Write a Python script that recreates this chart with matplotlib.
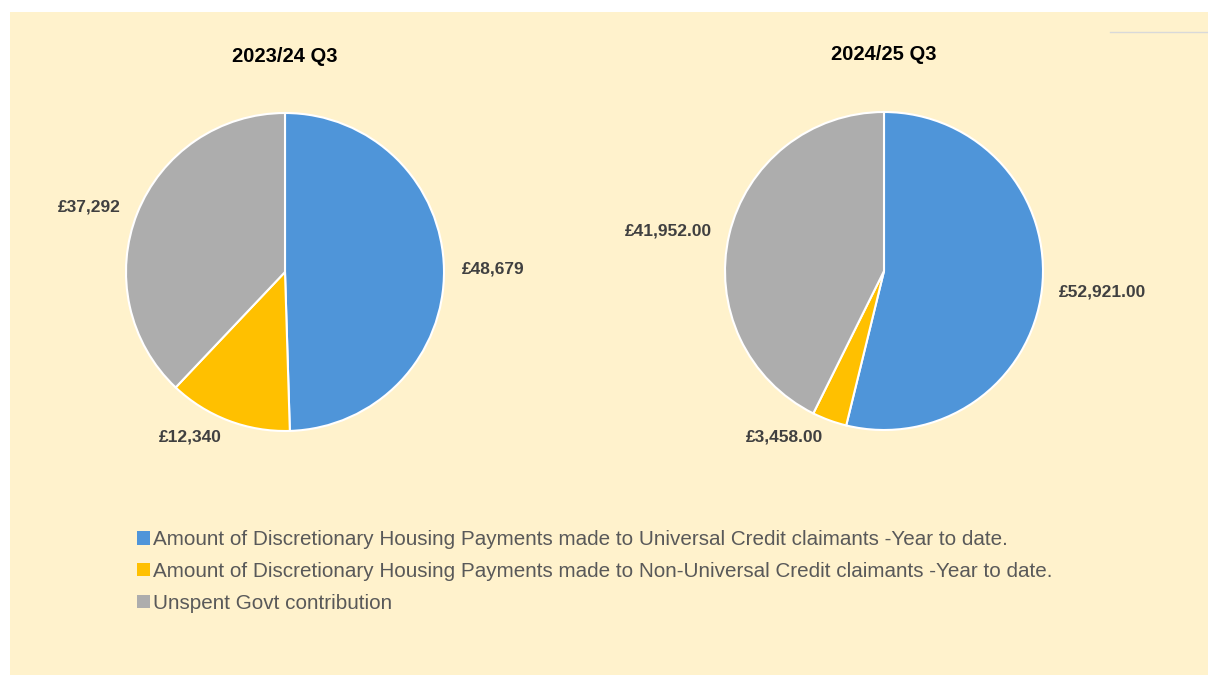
import matplotlib
matplotlib.use('Agg')
import matplotlib.pyplot as plt
from matplotlib.patches import Rectangle, Patch
from matplotlib.lines import Line2D

plt.rcParams['font.family'] = ['Liberation Sans', 'DejaVu Sans']

titles = ['2023/24 Q3', '2024/25 Q3']
values_2324 = [48679, 12340, 37292]
values_2425 = [52921.00, 3458.00, 41952.00]
labels_2324 = ['£48,679', '£12,340', '£37,292']
labels_2425 = ['£52,921.00', '£3,458.00', '£41,952.00']
categories = [
    'Amount of Discretionary Housing Payments made to Universal Credit claimants -Year to date.',
    'Amount of Discretionary Housing Payments made to Non-Universal Credit claimants -Year to date.',
    'Unspent Govt contribution',
]
colours = ['#4F95D9', '#FFC000', '#ADADAD']

W, H = 1208, 675
fig = plt.figure(figsize=(W / 100, H / 100), dpi=100)
fig.patch.set_facecolor('white')

# cream panel behind everything
fig.patches.append(Rectangle((10 / W, 0), 1 - 10 / W, 1 - 12 / H, transform=fig.transFigure,
                             facecolor='#FFF2CC', edgecolor='none', zorder=-5))
fig.lines.append(Line2D([1110 / W, 1], [1 - 32 / H, 1 - 32 / H], transform=fig.transFigure,
                        color='#D9D9D9', lw=1, zorder=-4))


def draw_pie(cx, cy, vals, labs, title, title_y):
    r = 159
    ax = fig.add_axes([(cx - r) / W, (H - cy - r) / H, 2 * r / W, 2 * r / H])
    wedges, texts = ax.pie(vals, labels=labs, colors=colours, startangle=90, counterclock=False,
                           labeldistance=1.11,
                           wedgeprops=dict(edgecolor='white', linewidth=1.5),
                           textprops=dict(fontsize=12.5, fontweight='bold', color='#404040'))
    for w in wedges:
        w.set_clip_on(False)
    ax.set_xlim(-1, 1)
    ax.set_ylim(-1, 1)
    ax.axis('off')
    fig.text(cx / W, 1 - title_y / H, title, ha='center', va='center',
             fontsize=14.5, fontweight='bold', color='black')
    return wedges


draw_pie(285, 272, values_2324, labels_2324, titles[0], 57)
draw_pie(884, 271, values_2425, labels_2425, titles[1], 55)

handles = [Patch(facecolor=c, edgecolor='none') for c in colours]
fig.legend(handles, categories, loc='upper left', bbox_to_anchor=(129 / W, 1 - 522 / H),
           frameon=False, fontsize=14.9, handlelength=0.6, handleheight=0.6, handletextpad=0.15,
           labelspacing=0.62, labelcolor='#595959', borderaxespad=0)

fig.savefig('out.png', dpi=100)
